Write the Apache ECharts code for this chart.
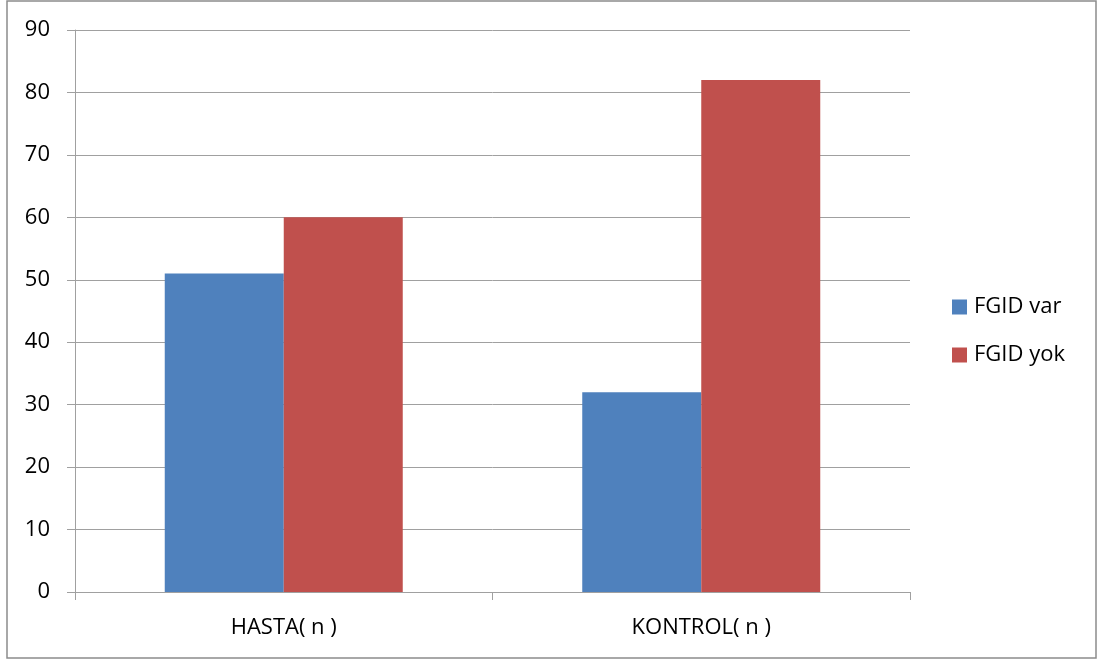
<!DOCTYPE html>
<html>
<head>
<meta charset="utf-8">
<style>
  html, body { margin: 0; padding: 0; background: #fff; }
  #chart { width: 1099px; height: 661px; }
</style>
<script src="https://cdn.jsdelivr.net/npm/echarts@6/dist/echarts.min.js"></script>
</head>
<body>
<div id="chart"></div>
<script>
// Groups and counts
const categories = ['HASTA( n )', 'KONTROL( n )'];
const seriesNames = ['FGID var', 'FGID yok'];
const fgidVar = [51, 32];
const fgidYok = [60, 82];
const yTicks = { min: 0, max: 90, interval: 10 };

const fontFamily = '"Open Sans", "Noto Sans", sans-serif';
const gridColor = '#a0a0a0';
const labelSize = 22;

const chart = echarts.init(document.getElementById('chart'), null, { renderer: 'canvas' });

chart.setOption({
  backgroundColor: '#ffffff',
  animation: false,
  textStyle: { fontFamily: fontFamily },
  graphic: [{
    type: 'rect',
    shape: { x: 7, y: 1, width: 1089, height: 657 },
    style: { fill: 'none', stroke: '#8c8c8c', lineWidth: 1.5 },
    silent: true
  }],
  grid: { left: 75, right: 189, top: 30, bottom: 69, containLabel: false },
  legend: {
    orient: 'vertical',
    left: 952,
    top: 296,
    padding: 0,
    itemWidth: 15,
    itemHeight: 15,
    itemGap: 26,
    icon: 'rect',
    data: seriesNames,
    textStyle: { fontSize: labelSize, color: '#000', fontFamily: fontFamily, padding: [0, 0, 0, 2] }
  },
  xAxis: {
    type: 'category',
    data: categories,
    boundaryGap: true,
    axisLine: { show: true, lineStyle: { color: gridColor, width: 1 } },
    axisTick: { show: true, length: 8, alignWithLabel: false, lineStyle: { color: gridColor } },
    axisLabel: { fontSize: labelSize, color: '#000', margin: 25, fontFamily: fontFamily },
    splitLine: { show: false }
  },
  yAxis: {
    type: 'value',
    min: yTicks.min,
    max: yTicks.max,
    interval: yTicks.interval,
    axisLine: { show: true, lineStyle: { color: gridColor, width: 1 } },
    axisTick: { show: true, length: 8, lineStyle: { color: gridColor } },
    axisLabel: { fontSize: labelSize, color: '#000', margin: 25, fontFamily: fontFamily },
    splitLine: { show: true, lineStyle: { color: gridColor, width: 1 } }
  },
  series: [
    {
      name: seriesNames[0],
      type: 'bar',
      data: fgidVar,
      barWidth: 119,
      barGap: '0%',
      itemStyle: { color: '#4F81BD' }
    },
    {
      name: seriesNames[1],
      type: 'bar',
      data: fgidYok,
      barWidth: 119,
      barGap: '0%',
      itemStyle: { color: '#C0504D' }
    }
  ]
});
</script>
</body>
</html>
